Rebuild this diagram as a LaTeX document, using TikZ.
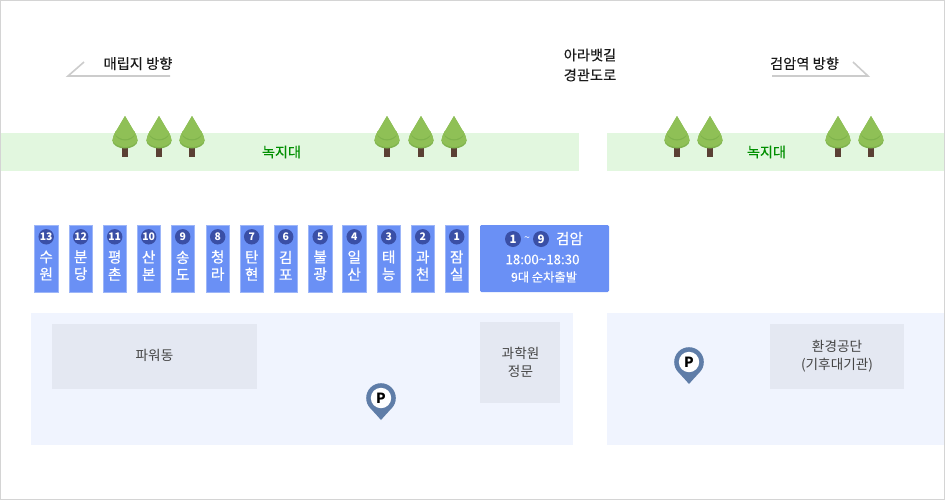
\documentclass[tikz,border=0pt]{standalone}
\usepackage{fontspec}
\setmainfont{Noto Sans CJK KR}
\newfontfamily\krsemi[FakeBold=0.5]{Noto Sans CJK KR}
\newfontfamily\krsoft[FakeBold=0.07]{Noto Sans CJK KR}
\definecolor{bandgreen}{HTML}{E2F7DF}
\definecolor{panelblue}{HTML}{F0F4FE}
\definecolor{bldggray}{HTML}{E4E8F2}
\definecolor{busblue}{HTML}{6A90F5}
\definecolor{busedge}{HTML}{9DB6F8}
\definecolor{numblue}{HTML}{3A4FA6}
\definecolor{pinblue}{HTML}{5F7DA8}
\definecolor{guidegray}{HTML}{CCCCCC}
\definecolor{treelight}{HTML}{8FC056}
\definecolor{treedark}{HTML}{7FB34C}
\definecolor{trunkbrown}{HTML}{5A4034}
\definecolor{txtdark}{HTML}{1A1A1A}
\definecolor{txtgray}{HTML}{444444}
\definecolor{labelgreen}{HTML}{008F00}
\tikzset{
  x=0.75pt,y=-0.75pt,
  lbl/.style={inner sep=0pt,text=txtdark,font=\krsoft\fontsize{10.7}{12}\selectfont,align=center},
  bldglbl/.style={inner sep=0pt,text=txtgray,font=\fontsize{10.2}{13.5}\selectfont,align=center},
  greenlbl/.style={inner sep=0pt,text=labelgreen,font=\krsoft\fontsize{10.6}{12}\selectfont},
  busbox/.style={fill=busblue,draw=busedge,line width=0.5pt},
  numdot/.style={circle,fill=numblue,inner sep=0pt,minimum size=11.6pt,text=white,font=\fontsize{7.8}{8}\selectfont\bfseries},
  bigdot/.style={numdot,minimum size=12pt,font=\fontsize{8.6}{9}\selectfont\bfseries},
  buslbl/.style={inner sep=0pt,text=white,align=center,font=\krsemi\fontsize{11}{12.9}\selectfont},
  whitelbl/.style={inner sep=0pt,text=white,font=\krsoft\fontsize{9.2}{11}\selectfont},
  guide/.style={draw=guidegray,line width=1.2pt},
  tree/.pic={
    \fill[trunkbrown] (-2.7,30) rectangle (2.7,41);
    \fill[treedark] (-9,15) .. controls (-10.5,18) and (-12.6,21) .. (-12.6,24.5) .. controls (-12.6,29.5) and (-6,32.5) .. (0,32.5) .. controls (6,32.5) and (12.6,29.5) .. (12.6,24.5) .. controls (12.6,21) and (10.5,18) .. (9,15) -- cycle;
    \fill[treelight] (-9,15) .. controls (-10.5,18) and (-12.6,21) .. (-12.6,24.5) .. controls (-10.5,28.5) and (-5,31) .. (0,31) .. controls (5,31) and (10.5,28.5) .. (12.6,24.5) .. controls (12.6,21) and (10.5,18) .. (9,15) -- cycle;
    \fill[treedark] (0,0) -- (-10.2,17.5) .. controls (-9.5,21.5) and (-5,24.5) .. (0,24.5) .. controls (5,24.5) and (9.5,21.5) .. (10.2,17.5) -- cycle;
    \fill[treelight] (0,0) -- (-10.4,17.5) .. controls (-8,21) and (-4,23.2) .. (0,23.2) .. controls (4,23.2) and (8,21) .. (10.4,17.5) -- cycle;
  },
  parkpin/.pic={
    \fill[pinblue] (0,0) circle[radius=14.8];
    \fill[pinblue] (-14,4.5) .. controls (-11,11) and (-5,16) .. (0,22) .. controls (5,16) and (11,11) .. (14,4.5) -- cycle;
    \fill[white] (0,0) circle[radius=10.2];
    \node[inner sep=0pt,text=black,font=\fontsize{10.5}{10.5}\selectfont\bfseries] at (0,0) {P};
  }
}
\begin{document}
\begin{tikzpicture}
\useasboundingbox (0,0) rectangle (945,500);
\fill[white] (0,0) rectangle (945,500);
\draw[draw=black!17,line width=0.75pt] (0.5,0.5) rectangle (944.5,499.5);
% green bands
\fill[bandgreen] (0.7,133) rectangle (579,171);
\fill[bandgreen] (607,133) rectangle (944.3,171);
% panels
\fill[panelblue] (31,313) rectangle (573,445);
\fill[panelblue] (607,313) rectangle (944.3,445);
\fill[bldggray] (52,324) rectangle (257,389);
\fill[bldggray] (480,322) rectangle (560,403);
\fill[bldggray] (770,324) rectangle (904,389);
\node[bldglbl] (power) at (154.5,355) {파워동};
\node[bldglbl] (gate) at (520.5,362) {과학원\\정문};
\node[bldglbl] (env) at (837,356) {환경공단\\(기후대기관)};
% trees
\foreach \tx in {125,159,192,387,421,454,677,710,838,871}
  \pic at (\tx,116) {tree};
\node[greenlbl] (green1) at (281.5,152) {녹지대};
\node[greenlbl] (green2) at (766.5,152) {녹지대};
% headers
\node[lbl] (west) at (138,63.5) {매립지 방향};
\node[lbl] (east) at (804.5,63.5) {검암역 방향};
\node[lbl] (road1) at (590,55) {아라뱃길};
\node[lbl] (road2) at (590,75) {경관도로};
\coordinate (wa) at (84,62); \coordinate (wb) at (68,76); \coordinate (wc) at (170,76);
\draw[guide] (wa) -- (wb) -- (wc);
\coordinate (ea) at (772,76); \coordinate (eb) at (868,76); \coordinate (ec) at (853,62);
\draw[guide] (ea) -- (eb) -- (ec);
% bus bays
\foreach \bx/\num/\bustxt in {
  34.5/13/수\\원, 69/12/분\\당, 103/11/평\\촌, 137/10/산\\본, 171/9/송\\도,
  206/8/청\\라, 240/7/탄\\현, 274/6/김\\포, 308.5/5/불\\광, 342.5/4/일\\산,
  377/3/태\\능, 411/2/과\\천, 445/1/잠\\실}{
  \draw[busbox] (\bx,225.5) rectangle ++(23.5,66.5);
  \node[numdot] (dot\num) at (\bx+11.7,236.8) {\num};
  \node[buslbl] (bus\num) at (\bx+11.7,265.5) {\bustxt};
}
% big box
\fill[busblue,rounded corners=1pt] (480,225) rectangle (609,292);
\node[bigdot] (big1) at (513,239) {1};
\node[inner sep=0pt,text=white,font=\fontsize{8}{8}\selectfont] (tilde) at (527,239.5) {\textasciitilde};
\node[bigdot] (big9) at (541,239) {9};
\node[inner sep=0pt,text=white,font=\krsemi\fontsize{11}{12}\selectfont] (geomam) at (569.5,238.5) {검암};
\node[inner sep=0pt,text=white,font=\krsoft\fontsize{10}{11}\selectfont] (time) at (542.5,259.5) {18:00\textasciitilde18:30};
\node[whitelbl] (nine) at (544,277) {9대 순차출발};
% parking
\pic at (381,398) {parkpin};
\pic at (689,362) {parkpin};
\end{tikzpicture}
\end{document}
